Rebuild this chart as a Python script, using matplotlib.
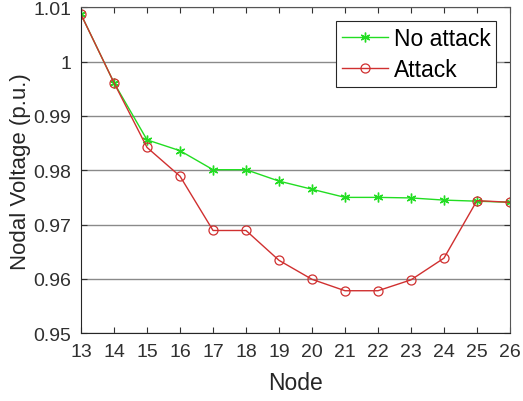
import numpy as np
import matplotlib
matplotlib.use("Agg")
from matplotlib import pyplot as plt

plt.rcParams["font.family"] = ["Liberation Sans", "DejaVu Sans"]

nodes = list(range(13, 27))
no_attack = [1.0087, 0.9961, 0.9856, 0.9836, 0.9801, 0.9801, 0.9780,
             0.9765, 0.9750, 0.9750, 0.9749, 0.9745, 0.9743, 0.9741]
attack = [1.0087, 0.9961, 0.9842, 0.9789, 0.9689, 0.9689, 0.9634,
          0.9599, 0.9578, 0.9578, 0.9598, 0.9638, 0.9744, 0.9741]
y_ticks = [0.95, 0.96, 0.97, 0.98, 0.99, 1.00, 1.01]
y_labels = ["0.95", "0.96", "0.97", "0.98", "0.99", "1", "1.01"]

fig = plt.figure(figsize=(5.23, 4.02), dpi=100)
ax = fig.add_axes([0.155, 0.169, 0.82, 0.81])

ax.plot(nodes, no_attack, color="#22dd22", marker=(6, 2, 0), markersize=7,
        markeredgewidth=1.0, linewidth=1.0, label="No attack")
ax.plot(nodes, attack, color="#d03030", marker="o", markersize=6.5,
        markerfacecolor="none", markeredgewidth=0.9, linewidth=1.0, label="Attack")

ax.set_xlim(13, 26)
ax.set_ylim(0.95, 1.01)
ax.set_xticks(nodes)
ax.set_yticks(y_ticks)
ax.set_yticklabels(y_labels)
ax.yaxis.grid(True, color="#8a8a8a", linewidth=1.0)
ax.set_axisbelow(True)
ax.tick_params(direction="in", top=True, right=True, labelsize=14,
               colors="#303030", length=4, pad=7)
for side in ["left", "bottom"]:
    ax.spines[side].set_color("#262626")
for side in ["top", "right"]:
    ax.spines[side].set_color("#555555")

ax.set_xlabel("Node", fontsize=16.5, color="#262626", labelpad=8)
ax.set_ylabel("Nodal Voltage (p.u.)", fontsize=16, color="#262626")
ax.yaxis.set_label_coords(-0.117, 0.5)

leg = ax.legend(loc="upper right", fontsize=16.5, fancybox=False, framealpha=1,
                edgecolor="#262626", handlelength=2.0, borderpad=0.25,
                labelspacing=0.35, handletextpad=0.25, borderaxespad=0.6)
leg.get_frame().set_linewidth(0.8)

fig.savefig("out.png", dpi=100)
